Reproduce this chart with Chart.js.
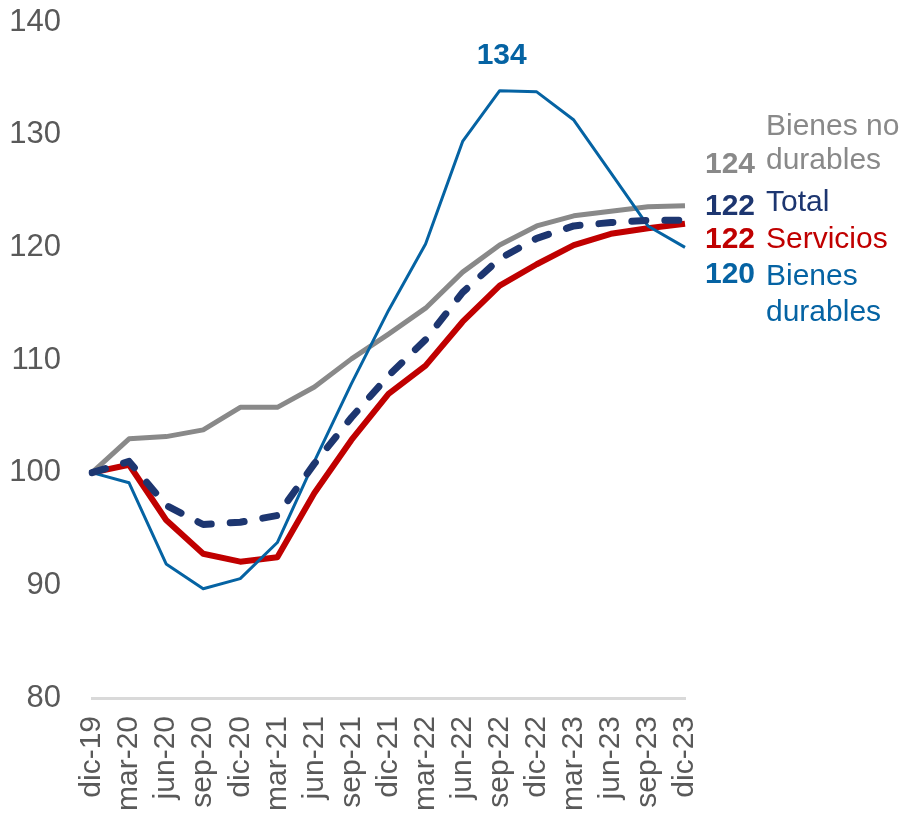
<!DOCTYPE html>
<html>
<head>
<meta charset="utf-8">
<script src="https://cdn.jsdelivr.net/npm/chart.js@4/dist/chart.umd.min.js"></script>
<style>
html,body{margin:0;padding:0;background:#fff;}
#wrap{width:910px;height:821px;position:relative;}
</style>
</head>
<body>
<div id="wrap"><canvas id="c" width="910" height="821"></canvas></div>
<script>
const categories = ['dic-19','mar-20','jun-20','sep-20','dic-20','mar-21','jun-21','sep-21','dic-21','mar-22','jun-22','sep-22','dic-22','mar-23','jun-23','sep-23','dic-23'];
const bienesNoDurables = [100, 103.0, 103.2, 103.8, 105.8, 105.8, 107.6, 110.1, 112.3, 114.6, 117.8, 120.2, 121.9, 122.8, 123.2, 123.6, 123.7];
const total = [100, 101.0, 97.1, 95.4, 95.6, 96.2, 100.8, 104.9, 108.6, 111.8, 116.0, 119.0, 120.8, 121.9, 122.2, 122.4, 122.4];
const servicios = [100, 100.7, 95.8, 92.8, 92.1, 92.5, 98.2, 102.9, 107.0, 109.5, 113.4, 116.6, 118.5, 120.2, 121.2, 121.7, 122.1];
const bienesDurables = [100, 99.1, 91.9, 89.7, 90.6, 93.8, 101.0, 107.9, 114.4, 120.3, 129.4, 133.9, 133.8, 131.3, 126.6, 121.9, 120.0];
const yTicks = [80, 90, 100, 110, 120, 130, 140];

const C_GRAY = '#898989', C_NAVY = '#1d3670', C_RED = '#c00000', C_BLUE = '#0563a3';
const FONT = '"Liberation Sans", Arial, sans-serif';

const annot = {
  id: 'annot',
  afterDatasetsDraw(chart) {
    const ctx = chart.ctx, a = chart.chartArea, ys = chart.scales.y, xs = chart.scales.x;
    ctx.save();
    ctx.textBaseline = 'middle';
    const numX = a.right + 70, txtX = a.right + 81;
    const rows = [
      {num: '', txt: 'Bienes no', c: C_GRAY, y: 127},
      {num: Math.round(bienesNoDurables[16]), txt: 'durables', c: C_GRAY, y: 161},
      {num: Math.round(total[16]), txt: 'Total', c: C_NAVY, y: 203},
      {num: Math.round(servicios[16]), txt: 'Servicios', c: C_RED, y: 240},
      {num: Math.round(bienesDurables[16]), txt: 'Bienes', c: C_BLUE, y: 277},
      {num: '', txt: 'durables', c: C_BLUE, y: 313}
    ];
    const numOffset = [0, 4, 4, 0, -2, 0];
    rows.forEach((r, i) => {
      ctx.fillStyle = r.c;
      if (r.num !== '') {
        ctx.font = 'bold 30px ' + FONT;
        ctx.textAlign = 'right';
        ctx.fillText(String(r.num), numX, r.y + numOffset[i]);
      }
      ctx.font = '30px ' + FONT;
      ctx.textAlign = 'left';
      ctx.fillText(r.txt, txtX, r.y);
    });
    const pk = bienesDurables.indexOf(Math.max(...bienesDurables));
    ctx.font = 'bold 30px ' + FONT;
    ctx.textAlign = 'center';
    ctx.fillStyle = C_BLUE;
    ctx.fillText(String(Math.round(bienesDurables[pk])), xs.getPixelForValue(pk) + 2, ys.getPixelForValue(bienesDurables[pk]) - 35);
    ctx.restore();
  }
};

new Chart(document.getElementById('c'), {
  type: 'line',
  data: {
    labels: categories,
    datasets: [
      {label: 'Total', data: total, borderColor: C_NAVY, borderWidth: 7, borderDash: [14, 19], borderCapStyle: 'round', order: 0},
      {label: 'Bienes durables', data: bienesDurables, borderColor: C_BLUE, borderWidth: 3, order: 1},
      {label: 'Servicios', data: servicios, borderColor: C_RED, borderWidth: 6, order: 2},
      {label: 'Bienes no durables', data: bienesNoDurables, borderColor: C_GRAY, borderWidth: 5, order: 3}
    ]
  },
  options: {
    responsive: false,
    animation: false,
    devicePixelRatio: 1,
    elements: {point: {radius: 0}, line: {tension: 0, borderJoinStyle: 'round'}},
    layout: {padding: {top: 22, right: 225, bottom: 0, left: 0}},
    plugins: {legend: {display: false}, tooltip: {enabled: false}},
    scales: {
      x: {
        offset: false,
        grid: {display: false, drawTicks: false},
        border: {display: true, color: '#d9d9d9', width: 3},
        ticks: {color: '#595959', font: {family: FONT, size: 30}, minRotation: 90, maxRotation: 90, padding: 18, autoSkip: false},
        afterFit(s) { s.height = 123; }
      },
      y: {
        min: 80, max: 140,
        grid: {display: false, drawTicks: false},
        border: {display: false},
        afterBuildTicks(s) { s.ticks = yTicks.map(v => ({value: v})); },
        ticks: {color: '#595959', font: {family: FONT, size: 31}, padding: 31},
        afterFit(s) { s.width = 92; s.paddingTop = 0; }
      }
    }
  },
  plugins: [annot]
});
</script>
</body>
</html>
